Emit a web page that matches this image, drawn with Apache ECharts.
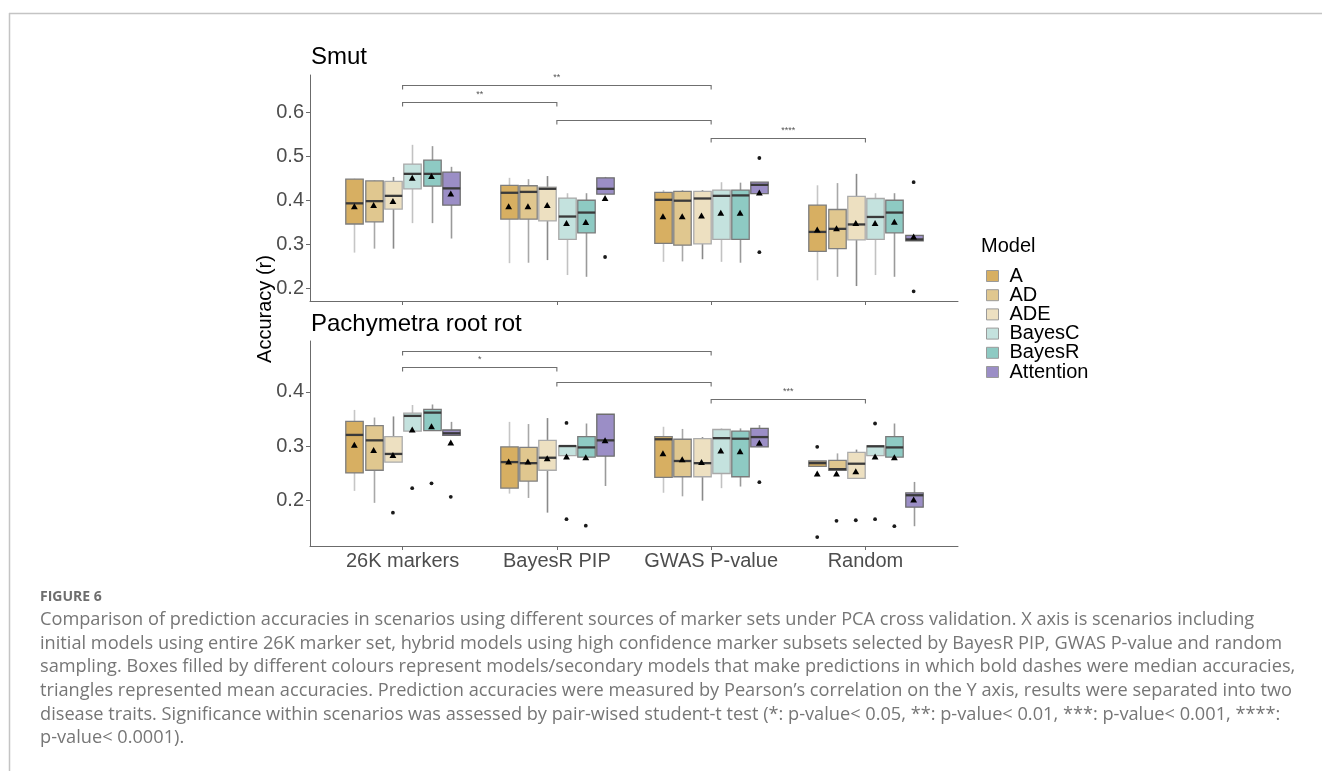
<!DOCTYPE html>
<html><head><meta charset="utf-8">
<script src="https://cdn.jsdelivr.net/npm/echarts@6/dist/echarts.min.js"></script>
<style>html,body{margin:0;padding:0;background:#fff}#c{width:1322px;height:771px}</style>
</head><body><div id="c"></div>
<script>
const categories = ['26K markers', 'BayesR PIP', 'GWAS P-value', 'Random'];
const models = ['A', 'AD', 'ADE', 'BayesC', 'BayesR', 'Attention'];

// Smut: per scenario [lower whisker, Q1, median, Q3, upper whisker]
const smut_A = [[0.282,0.347,0.394,0.449,0.450],[0.258,0.358,0.418,0.435,0.452],[0.261,0.303,0.402,0.419,0.424],[0.219,0.285,0.329,0.390,0.435]];
const smut_AD = [[0.291,0.352,0.399,0.445,0.446],[0.259,0.358,0.420,0.434,0.449],[0.262,0.299,0.400,0.421,0.424],[0.227,0.291,0.336,0.380,0.440]];
const smut_ADE = [[0.291,0.381,0.411,0.444,0.454],[0.265,0.354,0.427,0.431,0.456],[0.267,0.302,0.405,0.421,0.424],[0.206,0.311,0.346,0.410,0.461]];
const smut_BayesC = [[0.349,0.427,0.461,0.483,0.527],[0.231,0.312,0.364,0.406,0.417],[0.261,0.312,0.411,0.424,0.442],[0.231,0.312,0.363,0.405,0.417]];
const smut_BayesR = [[0.349,0.433,0.461,0.492,0.524],[0.227,0.327,0.373,0.401,0.417],[0.259,0.312,0.412,0.424,0.441],[0.227,0.327,0.373,0.401,0.417]];
const smut_Attention = [[0.314,0.390,0.428,0.465,0.477],[0.415,0.415,0.427,0.452,0.454],[0.416,0.416,0.436,0.442,0.442],[0.309,0.309,0.312,0.321,0.321]];
// means per model (rows) per scenario (cols)
const smutMeans = [
  [0.386,0.386,0.363,0.333],
  [0.389,0.386,0.363,0.336],
  [0.398,0.389,0.365,0.348],
  [0.451,0.348,0.371,0.348],
  [0.455,0.350,0.371,0.351],
  [0.415,0.405,0.417,0.317]
];
// outliers: [scenario (1-4), model index, value]
const smutOutliers = [[2,5,0.272],[3,5,0.497],[3,5,0.283],[4,5,0.442],[4,5,0.194]];
// significance brackets: [from scenario, to scenario, bracket height, label]
const smutSig = [[1,3,0.663,'**'],[1,2,0.624,'**'],[2,3,0.583,''],[3,4,0.542,'****']];

// Pachymetra root rot
const pr_A = [[0.218,0.251,0.321,0.346,0.367],[0.213,0.223,0.271,0.299,0.345],[0.2145,0.243,0.313,0.318,0.336],[0.263,0.263,0.269,0.273,0.273]];
const pr_AD = [[0.196,0.256,0.311,0.338,0.353],[0.205,0.236,0.269,0.298,0.341],[0.208,0.244,0.273,0.313,0.332],[0.256,0.256,0.258,0.274,0.287]];
const pr_ADE = [[0.271,0.271,0.286,0.318,0.355],[0.178,0.256,0.279,0.311,0.352],[0.200,0.244,0.269,0.314,0.317],[0.241,0.241,0.268,0.289,0.294]];
const pr_BayesC = [[0.328,0.328,0.356,0.361,0.376],[0.283,0.283,0.3005,0.301,0.301],[0.223,0.250,0.315,0.331,0.333],[0.283,0.283,0.300,0.301,0.301]];
const pr_BayesR = [[0.329,0.329,0.362,0.368,0.377],[0.280,0.280,0.298,0.318,0.342],[0.226,0.244,0.314,0.328,0.333],[0.280,0.280,0.298,0.318,0.342]];
const pr_Attention = [[0.320,0.320,0.324,0.330,0.345],[0.227,0.282,0.311,0.359,0.359],[0.299,0.299,0.317,0.333,0.339],[0.153,0.188,0.210,0.2145,0.2345]];
const prMeans = [
  [0.302,0.271,0.286,0.249],
  [0.292,0.271,0.275,0.249],
  [0.283,0.277,0.270,0.253],
  [0.330,0.280,0.291,0.280],
  [0.336,0.279,0.290,0.279],
  [0.306,0.310,0.3055,0.201]
];
const prOutliers = [
  [1,2,0.178],[1,3,0.223],[1,4,0.232],[1,5,0.207],
  [2,3,0.343],[2,3,0.166],[2,4,0.154],
  [3,5,0.234],
  [4,0,0.299],[4,0,0.133],[4,1,0.163],[4,2,0.164],[4,3,0.342],[4,3,0.166],[4,4,0.153]
];
const prSig = [[1,3,0.476,''],[1,2,0.4466,'*'],[2,3,0.418,''],[3,4,0.3877,'***']];

const yTicksSmut = [0.2,0.3,0.4,0.5,0.6];
const yTicksPR = [0.2,0.3,0.4];

const captionLines = [
  'Comparison of prediction accuracies in scenarios using different sources of marker sets under PCA cross validation. X axis is scenarios including',
  'initial models using entire 26K marker set, hybrid models using high confidence marker subsets selected by BayesR PIP, GWAS P-value and random',
  'sampling. Boxes filled by different colours represent models/secondary models that make predictions in which bold dashes were median accuracies,',
  'triangles represented mean accuracies. Prediction accuracies were measured by Pearson\u2019s correlation on the Y axis, results were separated into two',
  'disease traits. Significance within scenarios was assessed by pair-wised student-t test (*: p-value< 0.05, **: p-value< 0.01, ***: p-value< 0.001, ****:',
  'p-value< 0.0001).'
];

// ---------- styling ----------
const FONT = "'Liberation Sans', Arial, sans-serif";
const fills = ['#D7AF62','#E0C78F','#EDE0C1','#C4E2DE','#8ECAC3','#9B8EC6'];
const borders = ['#7d7d7d','#808080','#ababab','#a8a8a8','#7a7a7a','#6e6e6e'];
const whiskers = ['#c6c6c6','#a8a8a8','#8a8a8a','#c2c2c2','#9a9a9a','#9a9a9a'];
const SLOT = 0.125, BOXW = 0.113;

function boxRenderer(mi) {
  return function (params, api) {
    const g = api.value(0);
    const xc = g + (mi - 2.5) * SLOT;
    const lo = api.coord([xc, api.value(1)]);
    const q1 = api.coord([xc, api.value(2)]);
    const md = api.coord([xc, api.value(3)]);
    const q3 = api.coord([xc, api.value(4)]);
    const hi = api.coord([xc, api.value(5)]);
    const mn = api.coord([xc, api.value(6)]);
    const hw = api.size([BOXW, 0])[0] / 2;
    const cx = Math.round(q1[0]) + 0.5;
    return {
      type: 'group',
      children: [
        { type: 'line', shape: { x1: cx, y1: hi[1], x2: cx, y2: q3[1] }, style: { stroke: whiskers[mi], lineWidth: 1.6 } },
        { type: 'line', shape: { x1: cx, y1: q1[1], x2: cx, y2: lo[1] }, style: { stroke: whiskers[mi], lineWidth: 1.6 } },
        { type: 'rect', shape: { x: cx - hw, y: q3[1], width: hw * 2, height: Math.max(q1[1] - q3[1], 1) },
          style: { fill: fills[mi], stroke: borders[mi], lineWidth: 1.3 } },
        { type: 'line', shape: { x1: cx - hw, y1: md[1], x2: cx + hw, y2: md[1] }, style: { stroke: '#3a3a3a', lineWidth: 2.3 } },
        { type: 'polygon', shape: { points: [[mn[0], mn[1] - 3.6], [mn[0] - 3.4, mn[1] + 2.4], [mn[0] + 3.4, mn[1] + 2.4]] },
          style: { fill: '#000' } }
      ]
    };
  };
}
function outlierRenderer(params, api) {
  const xc = api.value(0) + (api.value(1) - 2.5) * SLOT;
  const p = api.coord([xc, api.value(2)]);
  return { type: 'circle', shape: { cx: p[0], cy: p[1], r: 1.9 }, style: { fill: '#1a1a1a' } };
}
function sigRenderer(params, api) {
  const a = api.coord([api.value(0), api.value(2)]);
  const b = api.coord([api.value(1), api.value(2)]);
  const y = Math.round(a[1]) + 0.5;
  const children = [
    { type: 'polyline', shape: { points: [[a[0], y + 4], [a[0], y], [b[0], y], [b[0], y + 4]] },
      style: { stroke: '#6f6f6f', lineWidth: 1.1, fill: null } }
  ];
  const lbl = api.value(3);
  if (lbl) {
    children.push({ type: 'text', style: { text: lbl, x: (a[0] + b[0]) / 2, y: y - 3, align: 'center', verticalAlign: 'bottom',
      fontSize: 9, fill: '#555', fontFamily: FONT } });
  }
  return { type: 'group', children };
}

const smutBoxes = [smut_A, smut_AD, smut_ADE, smut_BayesC, smut_BayesR, smut_Attention];
const prBoxes = [pr_A, pr_AD, pr_ADE, pr_BayesC, pr_BayesR, pr_Attention];

const series = [];
function addPanel(boxes, means, outliers, sigs, idx) {
  boxes.forEach((arr, mi) => {
    series.push({
      type: 'custom', name: models[mi], xAxisIndex: idx, yAxisIndex: idx,
      renderItem: boxRenderer(mi),
      itemStyle: { color: fills[mi], borderColor: borders[mi], borderWidth: 1 },
      encode: { x: 0, y: [1, 2, 3, 4, 5] },
      data: arr.map((b, gi) => [gi + 1, b[0], b[1], b[2], b[3], b[4], means[mi][gi]]),
      silent: true, clip: false, z: 2
    });
  });
  series.push({
    type: 'custom', name: 'outliers' + idx, xAxisIndex: idx, yAxisIndex: idx,
    renderItem: outlierRenderer, encode: { x: 0, y: 2 }, data: outliers, silent: true, clip: false, z: 3
  });
  series.push({
    type: 'custom', name: 'sig' + idx, xAxisIndex: idx, yAxisIndex: idx,
    renderItem: sigRenderer, encode: { x: [0, 1], y: 2 }, data: sigs, silent: true, clip: false, z: 3
  });
}
addPanel(smutBoxes, smutMeans, smutOutliers, smutSig, 0);
addPanel(prBoxes, prMeans, prOutliers, prSig, 1);

const axisColor = '#6b6b6b';
function xAxis(idx, showLabel) {
  return {
    type: 'value', gridIndex: idx, min: 0.4, max: 4.6,
    axisLine: { show: true, lineStyle: { color: axisColor, width: 1 } },
    axisTick: { show: true, length: 4, customValues: [1, 2, 3, 4], lineStyle: { color: axisColor } },
    axisLabel: { show: showLabel, customValues: [1, 2, 3, 4], formatter: v => categories[Math.round(v) - 1],
      margin: 5, fontSize: 20, color: '#4d4d4d', fontFamily: FONT },
    splitLine: { show: false }
  };
}
function yAxis(idx, min, max, ticks) {
  return {
    type: 'value', gridIndex: idx, min, max,
    axisLine: { show: true, lineStyle: { color: axisColor, width: 1 } },
    axisTick: { show: true, length: 4, customValues: ticks, lineStyle: { color: axisColor } },
    axisLabel: { customValues: ticks, formatter: v => v.toFixed(1), margin: 6, fontSize: 20, color: '#4d4d4d', fontFamily: FONT },
    splitLine: { show: false }
  };
}

const graphics = [
  { type: 'line', shape: { x1: 9, y1: 13.5, x2: 1322, y2: 13.5 }, style: { stroke: '#c4c4c4', lineWidth: 1.5 } },
  { type: 'line', shape: { x1: 9.5, y1: 13, x2: 9.5, y2: 771 }, style: { stroke: '#c4c4c4', lineWidth: 1.5 } },
  { type: 'text', x: 311, y: 57, style: { text: 'Smut', fontSize: 24, fill: '#000', fontFamily: FONT, verticalAlign: 'middle' } },
  { type: 'text', x: 311, y: 324, style: { text: 'Pachymetra root rot', fontSize: 24, fill: '#000', fontFamily: FONT, verticalAlign: 'middle' } },
  { type: 'text', x: 265, y: 309, rotation: Math.PI / 2,
    style: { text: 'Accuracy (r)', fontSize: 20, fill: '#000', fontFamily: FONT, align: 'center', verticalAlign: 'middle' } },
  { type: 'text', x: 981, y: 246, style: { text: 'Model', fontSize: 20, fill: '#000', fontFamily: FONT, verticalAlign: 'middle' } },
  { type: 'text', x: 40, y: 597, style: { text: 'FIGURE 6', fontSize: 14, fontWeight: 'bold', fill: '#6e6e6e', fontFamily: "'Open Sans'", verticalAlign: 'middle' } }
];
captionLines.forEach((t, i) => {
  graphics.push({ type: 'text', x: 40, y: 620 + i * 23.6,
    style: { text: t, fontSize: 18.2, fill: '#767676', fontFamily: "'Open Sans'", verticalAlign: 'middle' } });
});

const chart = echarts.init(document.getElementById('c'), null, { renderer: 'canvas' });
chart.setOption({
  animation: false,
  backgroundColor: '#fff',
  grid: [
    { left: 310, top: 75, width: 648, height: 226 },
    { left: 310, top: 341, width: 648, height: 205 }
  ],
  xAxis: [xAxis(0, false), xAxis(1, true)],
  yAxis: [yAxis(0, 0.172, 0.6857, yTicksSmut), yAxis(1, 0.1166, 0.4938, yTicksPR)],
  legend: {
    data: models.map((m, i) => ({ name: m, itemStyle: { color: fills[i], borderColor: '#9a9a9a', borderWidth: 1 } })),
    orient: 'vertical', left: 981, top: 261, itemWidth: 12, itemHeight: 11, itemGap: -0.8, icon: 'rect',
    selectedMode: false,
    textStyle: { fontSize: 20, color: '#000', fontFamily: FONT, lineHeight: 19, padding: [0, 0, 0, 6] }
  },
  graphic: graphics,
  series
});
</script>
</body></html>
